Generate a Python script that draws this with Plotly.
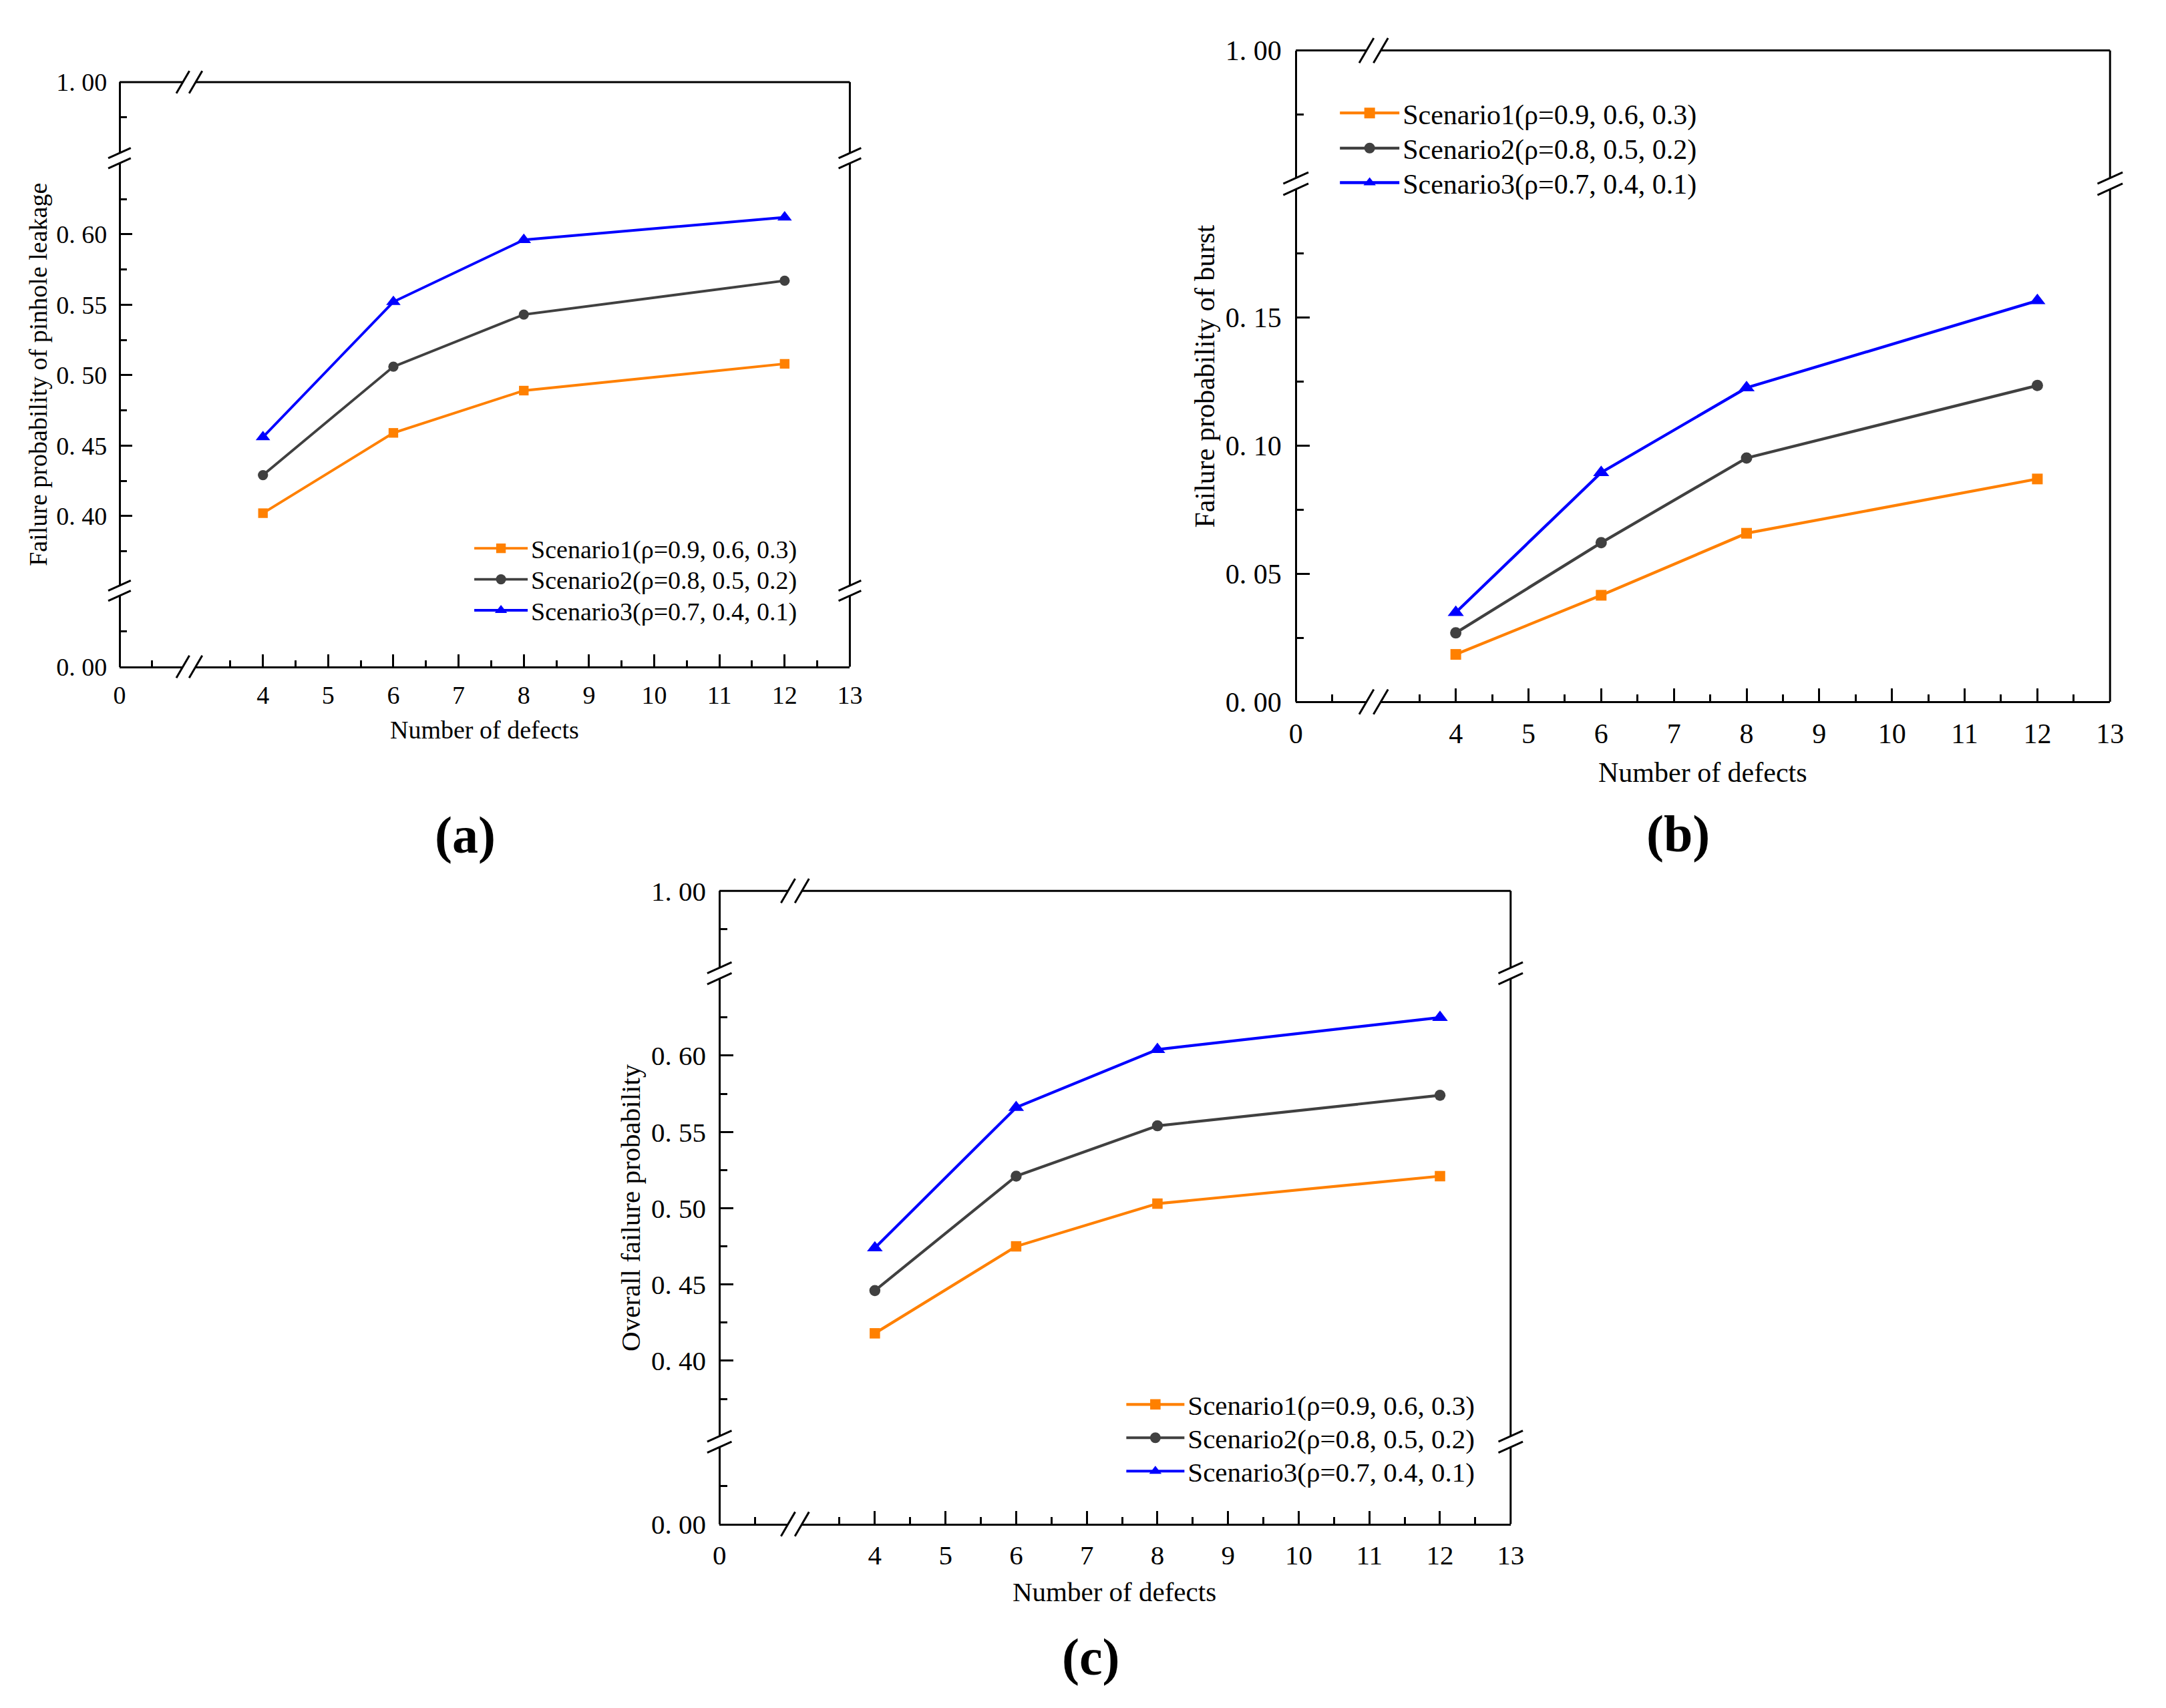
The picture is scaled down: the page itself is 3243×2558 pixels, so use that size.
import plotly.graph_objects as go

W, H = 3243, 2558

# ---------------- data ----------------
defects = [4, 6, 8, 12]
series_names = ["Scenario1(ρ=0.9, 0.6, 0.3)",
                "Scenario2(ρ=0.8, 0.5, 0.2)",
                "Scenario3(ρ=0.7, 0.4, 0.1)"]

pinhole_s1 = [0.402, 0.459, 0.489, 0.508]
pinhole_s2 = [0.429, 0.506, 0.543, 0.567]
pinhole_s3 = [0.456, 0.552, 0.596, 0.612]

burst_s1 = [0.0185, 0.0416, 0.0658, 0.0870]
burst_s2 = [0.0269, 0.0621, 0.0952, 0.1235]
burst_s3 = [0.0349, 0.0895, 0.1226, 0.1566]

overall_s1 = [0.418, 0.475, 0.503, 0.521]
overall_s2 = [0.446, 0.521, 0.554, 0.574]
overall_s3 = [0.474, 0.566, 0.604, 0.625]

x_major_right = [4, 5, 6, 7, 8, 9, 10, 11, 12, 13]
x_minor_right = [3.5, 4.5, 5.5, 6.5, 7.5, 8.5, 9.5, 10.5, 11.5, 12.5]
x_labels_right = ["4", "5", "6", "7", "8", "9", "10", "11", "12", "13"]

y_mid_major = [0.40, 0.45, 0.50, 0.55, 0.60]
y_mid_labels = ["0. 40", "0. 45", "0. 50", "0. 55", "0. 60"]
y_mid_minor = [0.375, 0.425, 0.475, 0.525, 0.575, 0.625]

y_burst_major = [0.0, 0.05, 0.10, 0.15]
y_burst_labels = ["0. 00", "0. 05", "0. 10", "0. 15"]
y_burst_minor = [0.025, 0.075, 0.125, 0.175]

x_title = "Number of defects"
y_titles = ["Failure probability of pinhole leakage",
            "Failure probability of burst",
            "Overall failure probability"]
panel_labels = ["(a)", "(b)", "(c)"]

colors = ["#FF8000", "#404040", "#0000FF"]
symbols = ["square", "circle", "triangle-up"]
marker_sizes = [16, 17, 21]

FONT = "Liberation Serif"

# ---------------- layout geometry (pixels) ----------------
panels = [
    dict(L=169.6, R=1274.0, T=101.8, B=993.8, fs=38,
         xseg=[(0, 1.07), (2.87, 13)],
         yseg=[dict(r=(0, 0.054), major=[0.0], labels=["0. 00"], minor=[0.025]),
               dict(r=(0.347, 0.654), major=y_mid_major, labels=y_mid_labels, minor=y_mid_minor),
               dict(r=(0.946, 1.0), major=[1.0], labels=["1. 00"], minor=[0.975])],
         data_seg=1, ys=[pinhole_s1, pinhole_s2, pinhole_s3],
         leg_x=791, leg_rows=[813.4, 860.7, 908.0],
         xt=(721.8, 1090), yt=(46.5, 547.8), lab=(692, 1250)),
    dict(L=1948.4, R=3179.6, T=53.6, B=1047.3, fs=42,
         xseg=[(0, 1.07), (2.87, 13)],
         yseg=[dict(r=(0, 0.2023), major=y_burst_major, labels=y_burst_labels, minor=y_burst_minor),
               dict(r=(0.948, 1.0), major=[1.0], labels=["1. 00"], minor=[0.975])],
         data_seg=0, ys=[burst_s1, burst_s2, burst_s3],
         leg_x=2109, leg_rows=[149.1, 202.7, 255.4],
         xt=(2563.5, 1155), yt=(1811, 550.5), lab=(2526, 1248)),
    dict(L=1076.8, R=2273.2, T=1335.7, B=2301.8, fs=41,
         xseg=[(0, 1.07), (2.87, 13)],
         yseg=[dict(r=(0, 0.054), major=[0.0], labels=["0. 00"], minor=[0.025]),
               dict(r=(0.347, 0.654), major=y_mid_major, labels=y_mid_labels, minor=y_mid_minor),
               dict(r=(0.946, 1.0), major=[1.0], labels=["1. 00"], minor=[0.975])],
         data_seg=1, ys=[overall_s1, overall_s2, overall_s3],
         leg_x=1784, leg_rows=[2119.6, 2170.5, 2221.4],
         xt=(1674, 2405), yt=(943, 1818.7), lab=(1639, 2505)),
]


def px(x):
    return x / W


def py(y):
    return 1 - y / H


fig = go.Figure()
layout = {}
shapes = []
annotations = []
counters = {"x": 0, "y": 0}


def new_id(letter):
    counters[letter] += 1
    return counters[letter]


def key(letter, i):
    return f"{letter}axis" if i == 1 else f"{letter}axis{i}"


def ref(letter, i):
    return letter if i == 1 else f"{letter}{i}"


legend_count = 0

for pi, p in enumerate(panels):
    L, R, T, B, fs = p["L"], p["R"], p["T"], p["B"], p["fs"]
    xspan = sum(b - a for a, b in p["xseg"])
    ux = (R - L) / xspan
    s = ux / 109.9          # scale relative to panel (b)
    gx = 10.8 * s
    gy = 8.6 * s
    lw = 3
    maj, mnr = 19 * s, 10 * s

    tick_common = dict(showline=True, linecolor="black", linewidth=lw,
                       ticks="inside", tickcolor="black", tickwidth=lw,
                       ticklen=maj, showgrid=False, zeroline=False,
                       tickmode="array", fixedrange=True, anchor="free",
                       tickfont=dict(family=FONT, size=fs, color="black"))

    # ---- x segments ----
    xa0, xa1 = p["xseg"][0]
    xbrk = L + (xa1 - xa0) * ux
    xl_id, xr_id = new_id("x"), new_id("x")
    yspan = sum(sg["r"][1] - sg["r"][0] for sg in p["yseg"])
    uy = (B - T) / yspan
    y_ids = [new_id("y") for _ in p["yseg"]]

    left_range = [xa0, xa0 + (xbrk - gx - L) / ux]
    right_range = [13 - (R - xbrk - gx) / ux, 13]
    layout[key("x", xl_id)] = dict(
        tick_common, domain=[px(L), px(xbrk - gx)], range=left_range,
        position=py(B), tickvals=[0], ticktext=["0"],
        ticklabelstandoff=int(10 * s),
        minor=dict(tickvals=[0.5], ticks="inside", ticklen=mnr, tickwidth=lw,
                   tickcolor="black", showgrid=False))
    layout[key("x", xr_id)] = dict(
        tick_common, domain=[px(xbrk + gx), px(R)], range=right_range,
        position=py(B), tickvals=x_major_right, ticktext=x_labels_right,
        ticklabelstandoff=int(10 * s),
        minor=dict(tickvals=x_minor_right, ticks="inside", ticklen=mnr, tickwidth=lw,
                   tickcolor="black", showgrid=False))

    # ---- y segments (bottom to top) ----
    ybreaks = []
    cur = B
    nseg = len(p["yseg"])
    for k, sg in enumerate(p["yseg"]):
        lo, hi = sg["r"]
        top_px = cur - (hi - lo) * uy
        bot_dom = cur - (gy if k > 0 else 0)
        top_dom = top_px + (gy if k < nseg - 1 else 0)
        rlo = lo + (gy / uy if k > 0 else 0)
        rhi = hi - (gy / uy if k < nseg - 1 else 0)
        layout[key("y", y_ids[k])] = dict(
            tick_common, domain=[py(bot_dom), py(top_dom)], range=[rlo, rhi],
            position=px(L), tickvals=sg["major"], ticktext=sg["labels"],
            ticklabelstandoff=int(12 * s),
            minor=dict(tickvals=sg["minor"], ticks="inside", ticklen=mnr, tickwidth=lw,
                       tickcolor="black", showgrid=False))
        if k < nseg - 1:
            ybreaks.append(top_px)
        cur = top_px

    # empty traces so that every axis segment belongs to a drawn subplot
    for k in range(nseg):
        if k != p["data_seg"]:
            fig.add_trace(go.Scatter(x=[], y=[], xaxis=ref("x", xl_id),
                                     yaxis=ref("y", y_ids[k]), showlegend=False,
                                     hoverinfo="skip", mode="lines"))

    # ---- frame top & right with gaps ----
    line_style = dict(color="black", width=lw)
    for x0, x1 in [(L, xbrk - gx), (xbrk + gx, R)]:
        shapes.append(dict(type="line", xref="paper", yref="paper",
                           x0=px(x0), x1=px(x1), y0=py(T), y1=py(T), line=line_style))
    edges = [B] + sum([[b + gy, b - gy] for b in ybreaks], []) + [T]
    for j in range(0, len(edges), 2):
        shapes.append(dict(type="line", xref="paper", yref="paper",
                           x0=px(R), x1=px(R), y0=py(edges[j]), y1=py(edges[j + 1]),
                           line=line_style))

    # ---- break marks ----
    for yy in (B, T):
        for cx in (xbrk - gx, xbrk + gx):
            shapes.append(dict(type="line", xref="paper", yref="paper",
                               x0=px(cx - 11 * s), y0=py(yy + 19 * s),
                               x1=px(cx + 11 * s), y1=py(yy - 19 * s), line=line_style))
    for xx in (L, R):
        for b in ybreaks:
            for cy in (b + gy, b - gy):
                shapes.append(dict(type="line", xref="paper", yref="paper",
                                   x0=px(xx - 19 * s), y0=py(cy + 8.7 * s),
                                   x1=px(xx + 19 * s), y1=py(cy - 8.7 * s), line=line_style))

    # ---- traces (one legend per entry for exact placement) ----
    item_w = int(round(89 * s / 0.898 * 0.898))
    for si in range(3):
        legend_count += 1
        lname = "legend" if legend_count == 1 else f"legend{legend_count}"
        fig.add_trace(go.Scatter(
            x=defects, y=p["ys"][si], name=series_names[si],
            mode="lines+markers",
            line=dict(color=colors[si], width=4.3 * s),
            marker=dict(symbol=symbols[si], size=marker_sizes[si] * s, color=colors[si],
                        line=dict(width=0)),
            xaxis=ref("x", xr_id), yaxis=ref("y", y_ids[p["data_seg"]]),
            legend=lname, cliponaxis=False))
        layout[lname] = dict(
            x=px(p["leg_x"] - (item_w + 10)), y=py(p["leg_rows"][si]),
            xanchor="left", yanchor="middle", itemwidth=item_w,
            bgcolor="rgba(0,0,0,0)", borderwidth=0,
            font=dict(family=FONT, size=fs, color="black"))

    # ---- titles & labels ----
    annotations.append(dict(text=x_title, xref="paper", yref="paper",
                            x=px(p["xt"][0]), y=py(p["xt"][1]), showarrow=False,
                            xanchor="center", yanchor="middle",
                            font=dict(family=FONT, size=fs, color="black")))
    annotations.append(dict(text=y_titles[pi], xref="paper", yref="paper",
                            x=px(p["yt"][0]), y=py(p["yt"][1]), showarrow=False,
                            textangle=-90, xanchor="center", yanchor="middle",
                            font=dict(family=FONT, size=fs, color="black")))
    annotations.append(dict(text="<b>" + panel_labels[pi] + "</b>", xref="paper", yref="paper",
                            x=px(p["lab"][0]), y=py(p["lab"][1]), showarrow=False,
                            xanchor="center", yanchor="middle",
                            font=dict(family=FONT, size=78, color="black")))

fig.update_layout(**layout)
fig.update_layout(width=W, height=H, autosize=False,
                  margin=dict(l=0, r=0, t=0, b=0, pad=0),
                  paper_bgcolor="white", plot_bgcolor="white",
                  showlegend=True, shapes=shapes, annotations=annotations)

fig.write_html("out.html",
               post_script="document.body.style.margin='0';document.body.style.overflow='hidden';")
